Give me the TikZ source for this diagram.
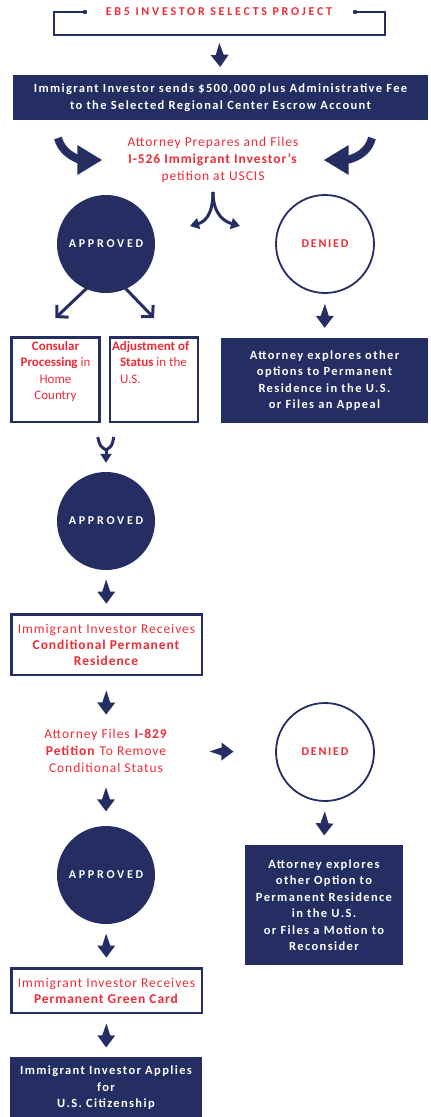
\documentclass[tikz,border=0pt]{standalone}
\usepackage{fontspec}
\setmainfont{Carlito}[LetterSpace=7]
\newfontfamily\boxfont{Carlito}[LetterSpace=11]
\newfontfamily\plainfont{Carlito}
\newfontfamily\widefont{Carlito}[LetterSpace=23]
\newfontfamily\nofont{Carlito}[LetterSpace=15]
\usetikzlibrary{arrows.meta,calc}

\definecolor{navy}{HTML}{252E63}
\definecolor{ebred}{HTML}{EE2A36}

\newcommand{\topbox}[2]{\parbox[t][76pt][t]{84pt}{#1#2}}

\tikzset{
	darkbox/.style={fill=navy, text=white, align=center, inner sep=0pt,
		font=\boxfont\bfseries\fontsize{12.5}{16.5}\selectfont},
	linebox/.style={draw=navy, line width=2.5pt, text=ebred, align=center, inner sep=0pt,
		font=\fontsize{13.5}{16}\selectfont},
	note/.style={text=ebred, align=center, inner sep=0pt, font=\fontsize{13.5}{17}\selectfont},
	okcircle/.style={circle, fill=navy, minimum size=98pt, inner sep=0pt, text=white,
		font=\widefont\bfseries\fontsize{12}{14}\selectfont},
	nocircle/.style={circle, draw=navy, line width=1.8pt, minimum size=98pt, inner sep=0pt, text=ebred,
		font=\nofont\bfseries\fontsize{12}{14}\selectfont},
	blockarrow/.style={fill=navy, to path={
		($(\tikztostart)!.5!(\tikztotarget)$) coordinate (mid)
		($(mid)!-12pt!(\tikztotarget)$) -- ($(mid)!4pt!90:(\tikztotarget)$)
		-- ($(mid)!9pt!90:(\tikztotarget)$) -- ($(mid)!12pt!(\tikztotarget)$)
		-- ($(mid)!9pt!-90:(\tikztotarget)$) -- ($(mid)!4pt!-90:(\tikztotarget)$) -- cycle}},
	bendarrow/.style={draw=navy, line width=8pt, -{Triangle[width=28pt,length=25pt]}},
	forkarrow/.style={draw=navy, line width=3pt, -{Triangle[width=11pt,length=9pt]}},
	forkline/.style={draw=navy, line width=3pt},
	splitarrow/.style={draw=navy, line width=3pt, line join=miter,
		-{Straight Barb[length=8pt,width=17pt]}}
}

\begin{document}
\begin{tikzpicture}[x=1pt,y=-1pt]
	\useasboundingbox (0,0) rectangle (431,1117);
	
	% header
	\node[text=ebred, inner sep=0pt, font=\widefont\bfseries\fontsize{12}{14}\selectfont] (title) at (219,12) {EB5 INVESTOR SELECTS PROJECT};
	\draw[navy, line width=1.5pt] (85,12) -- (54,12) -- (54,35) -- (385,35) -- (385,12) -- (355,12);
	\fill[navy] (85,12) circle (2.2pt) (355,12) circle (2.2pt);
	\coordinate (brk) at (219,35);
	
	\node[darkbox, minimum width=415pt, minimum height=45pt] (req) at (220.5,97.5)
		{Immigrant Investor sends \$500,000 plus Administrative Fee\\to the Selected Regional Center Escrow Account};
	\node[note] (pet) at (213,160) {Attorney Prepares and Files\\\textbf{I-526 Immigrant Investor’s}\\petition at USCIS};
	
	% first decision
	\node[okcircle] (app1) at (106,244) {APPROVED};
	\node[nocircle] (den1) at (325,244) {DENIED};
	\node[linebox, minimum width=86.5pt, minimum height=84.5pt, inner sep=2pt] (cons) at (55.5,379.5)
		{\topbox{\centering\plainfont\fontsize{13}{16.3}\selectfont}{\textbf{Consular}\\\textbf{Processing} in\\Home\\Country}};
	\node[linebox, minimum width=85.5pt, minimum height=84.5pt, inner sep=2pt] (adj) at (154,379.5)
		{\topbox{\raggedright\plainfont\fontsize{13}{16.3}\selectfont}{\textbf{Adjustment of}\\\hspace*{8pt}\textbf{Status} in the\\\hspace*{8pt}U.S.}};
	\node[darkbox, minimum width=207pt, minimum height=85pt] (opt1) at (324.5,380.5)
		{Attorney explores other\\options to Permanent\\Residence in the U.S.\\or Files an Appeal};
	
	% second decision
	\node[okcircle] (app2) at (106,521) {APPROVED};
	\node[linebox, minimum width=190.5pt, minimum height=60.5pt] (cond) at (106.5,644.5)
		{Immigrant Investor Receives\\\textbf{Conditional Permanent}\\\textbf{Residence}};
	\node[note] (rem) at (106,751) {Attorney Files \textbf{I-829}\\\textbf{Petition} To Remove\\Conditional Status};
	\node[nocircle] (den2) at (325,752) {DENIED};
	\node[okcircle] (app3) at (106,875) {APPROVED};
	\node[darkbox, minimum width=158pt, minimum height=120pt] (opt2) at (324,905)
		{Attorney explores\\other Option to\\Permanent Residence\\in the U.S.\\or Files a Motion to\\Reconsider};
	\node[linebox, minimum width=190.5pt, minimum height=44.5pt] (green) at (106.5,990.5)
		{Immigrant Investor Receives\\\textbf{Permanent Green Card}};
	\node[darkbox, minimum width=192pt, minimum height=62pt] (cit) at (106,1088)
		{Immigrant Investor Applies\\for\\U.S. Citizenship};
	
	% block arrows
	\path[blockarrow] (brk) to (req.north);
	\path[blockarrow] (den1.south) to (opt1.north);
	\path[blockarrow] (app2.south) to (cond.north);
	\path[blockarrow] (cond.south) to (rem.north);
	\path[blockarrow] (rem.south) to (app3.north);
	\path[blockarrow] (rem.east) to (den2.west);
	\path[blockarrow] (den2.south) to (opt2.north);
	\path[blockarrow] (app3.south) to (green.north);
	\path[blockarrow] (green.south) to (cit.north);
	
	% curved arrows into the petition
	\coordinate (bendL) at (58,138);
	\coordinate (bendR) at (372,138);
	\draw[bendarrow] (bendL) to[out=-75,in=180] ([xshift=-25pt]pet.west);
	\draw[bendarrow] (bendR) to[out=-105,in=0] ([xshift=25pt]pet.east);
	
	% fork towards the outcomes
	\coordinate (forkL) at (190,226);
	\coordinate (forkR) at (240,226);
	\draw[forkarrow] ([yshift=-9pt]pet.south) .. controls +(0,24) and +(14,-4) .. (forkL);
	\draw[forkarrow] ([yshift=-9pt]pet.south) .. controls +(0,24) and +(-14,-4) .. (forkR);
	
	% approved splits in two
	\draw[splitarrow, shorten <=-4pt] (app1.246) -- ([yshift=18pt]cons.north);
	\draw[splitarrow, shorten <=-4pt] (app1.294) -- ([yshift=18pt]adj.north);
	
	% both ways merge
	\coordinate (mrg) at (106,450);
	\draw[forkline] ([xshift=-3pt,yshift=-14pt]cons.south east) .. controls (100,446) .. (mrg);
	\draw[forkline] ([xshift=5pt,yshift=-14pt]adj.south west) .. controls (112,446) .. (mrg);
	\draw[forkarrow] (mrg) -- ([yshift=9pt]app2.north);
\end{tikzpicture}
\end{document}
